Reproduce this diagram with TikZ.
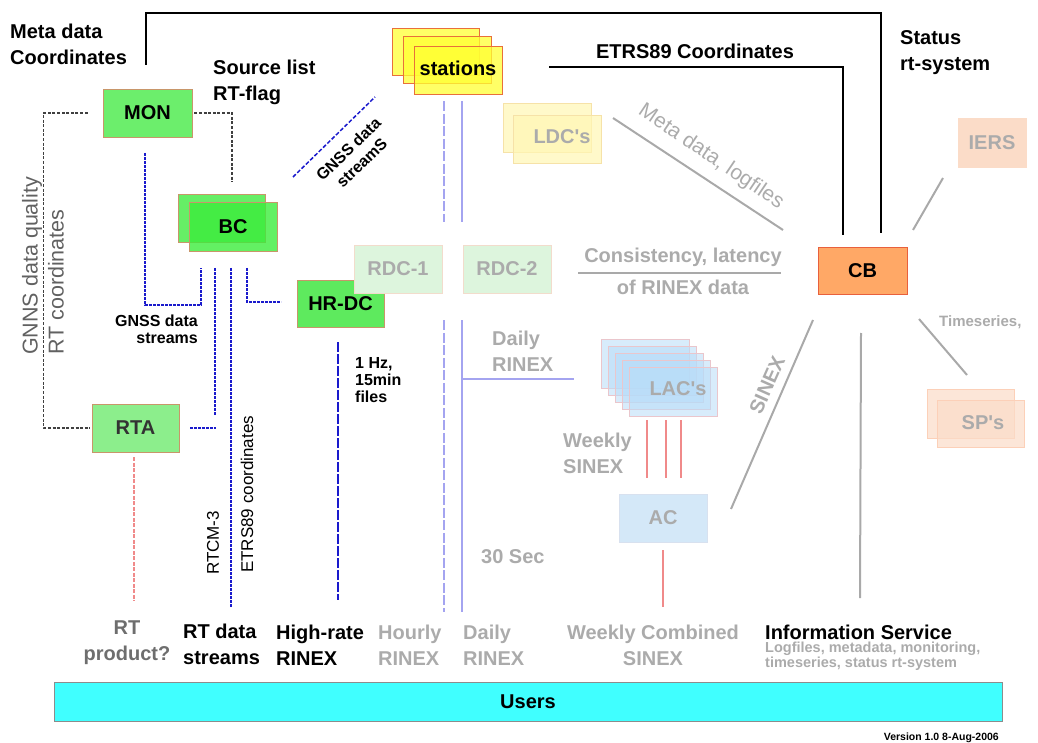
\documentclass[tikz,border=0pt]{standalone}
\usepackage{fontspec}
\setmainfont{Liberation Sans}
\definecolor{lgray}{HTML}{ABABAB}
\definecolor{dgray}{HTML}{6E6E6E}
\definecolor{linegray}{HTML}{A9A9A9}
\definecolor{bord}{HTML}{C8966A}
\definecolor{monc}{HTML}{6CEE6C}
\definecolor{bcback}{HTML}{66EE66}
\definecolor{bcfront}{HTML}{3CEC3C}
\definecolor{rtac}{HTML}{8CEE8C}
\definecolor{hrc}{HTML}{5EEA5E}
\definecolor{rdcc}{HTML}{DDF5DD}
\definecolor{rdcb}{HTML}{F2DCCC}
\definecolor{statc}{HTML}{FFFF33}
\definecolor{statb}{HTML}{E8703A}
\definecolor{ldcc}{HTML}{FFF6B4}
\definecolor{ldcb}{HTML}{F6E2A8}
\definecolor{lacc}{HTML}{B8DCF8}
\definecolor{lacb}{HTML}{EAC6CC}
\definecolor{acc}{HTML}{D4E8F8}
\definecolor{peach}{HTML}{FBDCC8}
\definecolor{peachb}{HTML}{FCD0B8}
\definecolor{cbc}{HTML}{FFA866}
\definecolor{cbb}{HTML}{E8603C}
\definecolor{usersc}{HTML}{40FFFF}
\definecolor{bluel}{HTML}{1A1ACC}
\definecolor{lav}{HTML}{A4A4F0}
\definecolor{lred}{HTML}{F08A8A}
\definecolor{dashc}{HTML}{404040}
\tikzset{
  sz/.style 2 args={minimum width=#1pt, minimum height=#2pt},
  box/.style={draw, line width=0.9pt, inner sep=0pt, font=\bfseries\fontsize{20}{26}\selectfont},
  lbl/.style={inner sep=0pt, align=left, font=\bfseries\fontsize{20}{26}\selectfont},
  glbl/.style={lbl, text=lgray},
  small/.style={inner sep=0pt, font=\bfseries\fontsize{16}{17}\selectfont},
  blk/.style={line width=2pt, black},
  gline/.style={line width=2pt, linegray},
  dsh/.style={line width=1.3pt, dashc, dash pattern=on 3pt off 1.6pt},
  bdot/.style={line width=1.5pt, bluel, dash pattern=on 2.6pt off 1.4pt},
  lavd/.style={line width=1.3pt, lav, dash pattern=on 10pt off 2.5pt},
  lavs/.style={line width=1.3pt, lav},
  redl/.style={line width=1.3pt, lred},
}
\begin{document}
\begin{tikzpicture}[x=1pt,y=-1pt]
\useasboundingbox (0,0) rectangle (1038,743);

% ---------- boxes ----------
\node[box, sz={89}{48}, fill=monc, draw=bord] (mon) at (147.5,113) {MON};
\node[box, sz={87}{48}, fill=bcback, draw=bord] (bcb) at (221.5,218) {};
\node[box, sz={88}{49}, fill=bcfront, fill opacity=0.8, text opacity=1, draw=bord] (bc) at (233,226.5) {BC};
\node[box, sz={87}{48}, fill=rtac, draw=bord, text=black!80] (rta) at (135.5,428) {RTA};
\node[box, sz={87}{47}, fill=hrc, draw=bord] (hrdc) at (340.5,303.5) {HR-DC};
\node[box, sz={88}{48}, fill=rdcc, draw=rdcb, text=lgray] (rdc1) at (398,269) {RDC-1};
\node[box, sz={88}{48}, fill=rdcc, draw=rdcb, text=lgray] (rdc2) at (507,269) {RDC-2};

\node[box, sz={87}{47}, fill=statc, fill opacity=0.75, draw=statb] (st1) at (435.5,51.5) {};
\node[box, sz={88}{47}, fill=statc, fill opacity=0.75, draw=statb] (st2) at (447,59.5) {};
\node[box, sz={88}{48}, fill=statc, fill opacity=0.75, draw=statb, text opacity=1] (st3) at (458,70) {};
\node[lbl] (sttext) at (458,68) {stations};

\node[box, sz={88}{49}, fill=ldcc, fill opacity=0.7, draw=ldcb] (ldc1) at (547,127.5) {};
\node[box, sz={88}{48}, fill=ldcc, fill opacity=0.7, draw=ldcb] (ldc2) at (557,139) {};
\node[glbl] (ldctext) at (562,137) {LDC\textquotesingle s};

\foreach \i in {0,...,4}{
  \node[box, sz={88}{49}, fill=lacc, fill opacity=0.55, draw=lacb] (lac\i) at (645+7*\i,363.5+7*\i) {};
}
\node[glbl] (lactext) at (678,389) {LAC\textquotesingle s};
\node[box, sz={88}{48}, fill=acc, draw=acc!80!lacb, text=lgray] (ac) at (663,518) {AC};

\node[box, sz={89}{47}, fill=cbc, draw=cbb] (cb) at (862.5,270.5) {CB};
\node[box, sz={68}{49}, fill=peach, draw=peach, text=lgray] (iers) at (992,142.5) {IERS};
\node[box, sz={87}{49}, fill=peach, fill opacity=0.7, draw=peachb] (sp1) at (970.5,413.5) {};
\node[box, sz={87}{47}, fill=peach, fill opacity=0.7, draw=peachb] (sp2) at (980.5,423.5) {};
\node[glbl] (sptext) at (983,423) {SP\textquotesingle s};

\node[box, sz={948}{39}, fill=usersc, draw=black!45] (users) at (528,701.5) {Users};

% ---------- coordinates for free ends ----------
\coordinate (metaend) at (146,65);
\coordinate (topcorner) at (881,13);
\coordinate (topcb) at (881,233);
\coordinate (etrsstart) at (549,67);
\coordinate (etrscb) at (843,235);
\coordinate (monbc) at (232,182);
\coordinate (gsa) at (145,153);
\coordinate (gsb) at (201,305);
\coordinate (gsc) at (201,268);
\coordinate (rtcma) at (215,268);
\coordinate (rtcmb) at (215,415);
\coordinate (rtab) at (216,428);
\coordinate (etrsa) at (231,268);
\coordinate (etrsb) at (231,607);
\coordinate (hra) at (247,268);
\coordinate (hrb) at (281,302);
\coordinate (diaga) at (293,177);
\coordinate (diagb) at (375,97);
\coordinate (hrend) at (338,600);
\coordinate (rtaend) at (134,601);
\coordinate (hourlyend) at (444,612);
\coordinate (dailyend) at (462,612);
\coordinate (dailybr) at (574,379);
\coordinate (metalinea) at (613,118);
\coordinate (metalineb) at (783,230);
\coordinate (consa) at (578,273);
\coordinate (consb) at (781,273);
\coordinate (iersa) at (913,230);
\coordinate (iersb) at (943,178);
\coordinate (sinexa) at (813,320);
\coordinate (sinexb) at (731,509);
\coordinate (infoa) at (861,333);
\coordinate (infob) at (860,598);
\coordinate (tsa) at (919,319);
\coordinate (tsb) at (967,375);
\coordinate (acend) at (663,607);

% ---------- black lines ----------
\draw[blk] (metaend) |- (topcorner) -- (topcb);
\draw[blk] (etrsstart) -| (etrscb);

% ---------- dashed dark lines ----------
\draw[dsh, shorten <=15pt, shorten >=2pt] (mon.west) -- ([xshift=-59pt]mon.west) |- (rta.west);
\draw[dsh, shorten <=2pt] (mon.east) -| (monbc);

% ---------- blue dotted lines ----------
\draw[bdot] (gsa) |- (gsb) -- (gsc);
\draw[bdot] (rtcma) -- (rtcmb);
\draw[bdot, shorten <=11pt] (rta.east) -- (rtab);
\draw[bdot] (etrsa) -- (etrsb);
\draw[bdot] (hra) |- (hrb);
\draw[bdot, dash pattern=on 4pt off 2pt] (diaga) -- (diagb);
\draw[line width=2pt, bluel, dash pattern=on 10pt off 2pt, shorten <=15pt] (hrdc.south -| hrend) -- (hrend);

% ---------- lavender lines ----------
\draw[lavd, shorten <=18pt, shorten >=23pt] (st2.south -| hourlyend) -- (rdc1.north -| hourlyend);
\draw[lavs, shorten <=18pt, shorten >=23pt] (st2.south -| dailyend) -- (rdc2.north -| dailyend);
\draw[lavd, shorten <=27pt] (rdc1.south -| hourlyend) -- (hourlyend);
\draw[lavs, shorten <=27pt] (rdc1.south -| dailyend) -- (dailyend);
\draw[lavs] (dailyend |- dailybr) -- (dailybr);

% ---------- red lines ----------
\draw[redl, dash pattern=on 4pt off 1.5pt, shorten <=5pt] (rta.south -| rtaend) -- (rtaend);
\foreach \x in {647,666,681}{
  \draw[redl, shorten <=4pt, shorten >=16pt] (lac4.south -| \x,0) -- (ac.north -| \x,0);
}
\draw[redl, shorten <=8pt] (ac.south) -- (acend);

% ---------- gray lines ----------
\draw[gline] (metalinea) -- (metalineb);
\draw[gline] (consa) -- (consb);
\draw[gline] (iersa) -- (iersb);
\draw[gline] (sinexa) -- (sinexb);
\draw[gline] (infoa) -- (infob);
\draw[gline] (tsa) -- (tsb);

% ---------- labels ----------
\node[lbl, anchor=west] (metalbl) at (10,44) {Meta data\\Coordinates};
\node[lbl, anchor=west] (srclbl) at (213,82) {Source list\\RT-flag};
\node[lbl, anchor=west] (statlbl) at (900,53) {Status\\rt-system};
\node[lbl] (etrslbl) at (695,51) {ETRS89 Coordinates};

\node[inner sep=0pt, align=left, rotate=90, anchor=west, text=black!62,
      font=\fontsize{21.5}{26}\selectfont] (qual) at (43,355) {GNNS data quality\\RT coordinates};

\node[small, anchor=east, align=right] (gnsslbl) at (198,329) {GNSS data\\streams};
\node[small, align=center, rotate=44, font=\bfseries\fontsize{16}{19}\selectfont] (gnssdiag) at (355,156) {GNSS data\\streamS};
\node[small, anchor=west, align=left] (hzlbl) at (355,380) {1 Hz,\\15min\\files};

\node[inner sep=0pt, rotate=90, anchor=west, font=\fontsize{17}{20}\selectfont] (etrsv) at (247,573) {ETRS89 coordinates};
\node[inner sep=0pt, rotate=90, anchor=west, font=\fontsize{17}{20}\selectfont] (rtcmv) at (213,575) {RTCM-3};

\node[inner sep=0pt, rotate=-34, text=lgray, font=\fontsize{21}{24}\selectfont] (metalog) at (711,157) {Meta data, logfiles};
\node[glbl] (conslbl) at (683,257) {Consistency, latency};
\node[glbl] (conslbl2) at (683,287) {of RINEX data};
\node[glbl, anchor=west] (dailylbl) at (492,351.5) {Daily\\RINEX};
\node[glbl, anchor=west] (weeklylbl) at (563,453.5) {Weekly\\SINEX};
\node[glbl, rotate=66] (sinexlbl) at (767,385) {SINEX};
\node[inner sep=0pt, anchor=west, text=lgray, font=\bfseries\fontsize{15}{18}\selectfont] (tslbl) at (939,322) {Timeseries,};
\node[glbl, anchor=west] (seclbl) at (481,557) {30 Sec};

% bottom labels
\node[lbl, align=center, text=dgray] (rtprod) at (127,643) {RT\\product?};
\node[lbl, anchor=west] (rtdata) at (183,644) {RT data\\streams};
\node[lbl, anchor=west] (hrrinex) at (276,645) {High-rate\\RINEX};
\node[glbl, anchor=west] (hourly) at (378,645) {Hourly\\RINEX};
\node[glbl, anchor=west] (dailyb) at (463,645) {Daily\\RINEX};
\node[glbl, align=center] (weeklyc) at (653,645) {Weekly Combined\\SINEX};
\node[lbl, anchor=west] (info) at (765,632) {Information Service};
\node[inner sep=0pt, anchor=west, align=left, text=lgray, font=\bfseries\fontsize{14.5}{14.5}\selectfont] (infosub) at (765,656) {Logfiles, metadata, monitoring,\\timeseries, status rt-system};
\node[inner sep=0pt, anchor=east, font=\bfseries\fontsize{10.5}{12}\selectfont] (version) at (999,738) {Version 1.0 8-Aug-2006};
\end{tikzpicture}
\end{document}
